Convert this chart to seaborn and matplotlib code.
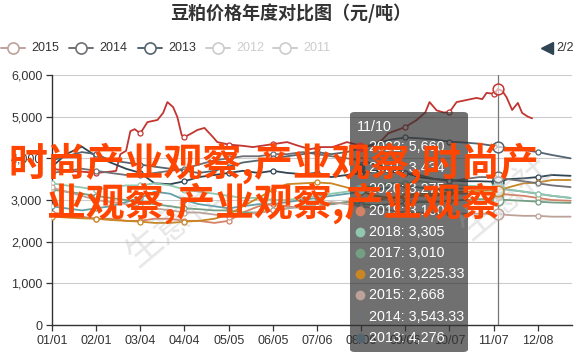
import numpy as np
import pandas as pd
import matplotlib
matplotlib.use("Agg")
import matplotlib.pyplot as plt
from matplotlib.patches import FancyBboxPatch
from matplotlib.lines import Line2D
import seaborn as sns

# ---------------- data ----------------
title = "豆粕价格年度对比图（元/吨）"
tick_days = [0, 31, 62, 93, 124, 155, 186, 217, 248, 279, 310, 341]
tick_labels = ["01/01", "02/01", "03/04", "04/04", "05/05", "06/05",
               "07/06", "08/06", "09/06", "10/07", "11/07", "12/08"]
hover_day = 313
hover_label = "11/10"

days = [0, 10, 21, 31, 41, 52, 62, 72, 83, 93, 103, 114, 124, 134, 145, 155,
        165, 176, 186, 196, 207, 217, 227, 238, 248, 258, 269, 279, 289, 300,
        310, 313, 320, 331, 341, 351, 364]

days_2022 = [0, 10, 21, 31, 41, 45, 48, 52, 55, 58, 62, 67, 74, 78, 81, 85, 88,
             91, 93, 98, 102, 107, 113, 116, 124, 134, 141, 151, 155, 165, 173,
             181, 186, 188, 197, 207, 217, 225, 232, 236, 240, 244, 248, 256,
             262, 265, 270, 275, 279, 284, 291, 298, 302, 305, 310, 313, 316,
             319, 323, 327, 330, 334, 337]
v2022 = [3750, 3700, 3680, 3650, 3680, 3700, 4100, 4180, 4650, 4700, 4600, 4870,
         4920, 5090, 5350, 5230, 4990, 4560, 4510, 4600, 4680, 4730, 4510, 4390,
         4330, 4300, 4270, 4320, 4340, 4390, 4300, 4220, 4250, 4270, 4270, 4390,
         4300, 4300, 4450, 4600, 4650, 4700, 4750, 4920, 5100, 5350, 5150, 5100,
         5110, 5350, 5400, 5450, 5420, 5570, 5550, 5660, 5620, 5470, 5160, 5330,
         5090, 5000, 4960]
v2021 = [3800, 4100, 4280, 4050, 3900, 3750, 3650, 3400, 3380, 3450, 3550, 3600,
         3650, 3700, 3650, 3700, 3650, 3620, 3650, 3550, 3600, 3650, 3700, 3680,
         3650, 3550, 3500, 3480, 3450, 3450, 3440, 3434, 3500, 3520, 3550, 3600, 3580]
v2020 = [2850, 2800, 2750, 2800, 2850, 2950, 3050, 3200, 3150, 3000, 2900, 2850,
         2800, 2850, 2900, 2900, 2950, 3000, 3050, 3100, 3150, 3200, 3250, 3300,
         3350, 3300, 3250, 3250, 3280, 3300, 3280, 3275, 3250, 3200, 3150, 3100, 3050]
v2019 = [2700, 2650, 2600, 2550, 2550, 2500, 2500, 2550, 2550, 2500, 2500, 2450,
         2500, 2700, 2850, 2900, 2850, 2800, 2850, 2900, 2950, 3000, 3000, 3050,
         3050, 3100, 3100, 3150, 3150, 3180, 3170, 3160, 3130, 3100, 3050, 3000, 2980]
v2018 = [3400, 3350, 3300, 3250, 3300, 3350, 3350, 3400, 3350, 3250, 3200, 3150,
         3100, 3050, 3050, 3000, 3000, 3050, 3100, 3150, 3200, 3300, 3350, 3400,
         3400, 3450, 3400, 3350, 3350, 3330, 3310, 3305, 3250, 3200, 3150, 3100, 3050]
v2017 = [3250, 3200, 3150, 3100, 3050, 3000, 2950, 2900, 2850, 2800, 2780, 2750,
         2750, 2700, 2700, 2750, 2800, 2850, 2900, 2900, 2950, 2900, 2880, 2900,
         2920, 2950, 2950, 2980, 3000, 3020, 3020, 3010, 3000, 2980, 2960, 2940, 2930]
v2016 = [2600, 2580, 2560, 2550, 2520, 2500, 2480, 2450, 2450, 2480, 2500, 2550,
         2650, 2850, 3050, 3250, 3380, 3400, 3420, 3400, 3300, 3200, 3100, 3050,
         3100, 3150, 3150, 3180, 3200, 3220, 3230, 3225.33, 3300, 3400, 3420, 3480, 3480]
v2015 = [3300, 3200, 3100, 3000, 2950, 2900, 2850, 2800, 2750, 2700, 2700, 2650,
         2600, 2650, 2700, 2750, 2800, 2850, 2900, 2950, 2900, 2850, 2800, 2750,
         2700, 2700, 2680, 2680, 2670, 2670, 2670, 2668, 2640, 2620, 2620, 2600, 2600]
v2014 = [3650, 3700, 3750, 3700, 3650, 3600, 3600, 3650, 3700, 3750, 3850, 3950,
         4000, 4050, 4050, 4100, 4100, 4150, 4100, 4050, 4000, 3950, 3850, 3750,
         3650, 3600, 3500, 3450, 3500, 3550, 3550, 3543.33, 3500, 3450, 3400, 3350, 3310]
v2013 = [3950, 4050, 4150, 4100, 3950, 3900, 3850, 3800, 3750, 3700, 3650, 3700,
         3800, 3900, 3950, 4000, 4050, 4100, 4150, 4100, 4150, 4250, 4350, 4450,
         4500, 4480, 4450, 4400, 4380, 4350, 4300, 4276, 4250, 4200, 4150, 4080, 4000]

years = ["2022", "2021", "2020", "2019", "2018", "2017", "2016", "2015", "2014", "2013"]
colors = ["#c23531", "#2f4554", "#61a0a8", "#d48265", "#91c7ae",
          "#749f83", "#ca8622", "#bda29a", "#6e7074", "#546570"]
legend_years = ["2015", "2014", "2013", "2012", "2011"]
legend_colors = ["#bda29a", "#6e7074", "#546570", "#cccccc", "#cccccc"]
legend_active = [True, True, True, False, False]

series_x = [days_2022] + [days] * 9
series_y = [v2022, v2021, v2020, v2019, v2018, v2017, v2016, v2015, v2014, v2013]

watermark1 = "时尚产业观察,产业观察,时尚产"
watermark2 = "业观察,产业观察,产业观察"
gray_mark = "生意社"

# ---------------- figure ----------------
sns.set_theme(style="white")
plt.rcParams["font.family"] = ["Liberation Sans", "Noto Sans CJK SC", "DejaVu Sans"]

W, H = 581, 356
fig = plt.figure(figsize=(W / 100, H / 100), dpi=100)
fig.patch.set_facecolor("white")


def fx(x):
    return x / W


def fy(y):
    return 1 - y / H


ax = fig.add_axes([fx(52), fy(325), 520 / W, 250 / H])
ax.set_facecolor("white")

for xs, ys, c in zip(series_x, series_y, colors):
    mk = [i for i, d in enumerate(xs) if d in tick_days]
    sns.lineplot(x=xs, y=ys, ax=ax, color=c, lw=1.3, sort=False,
                 marker="o", markevery=mk, markersize=3.6,
                 markerfacecolor="white", markeredgecolor=c, markeredgewidth=0.9,
                 zorder=3)

# hover pointer and enlarged symbols
ax.axvline(hover_day, color="#777777", lw=0.9, zorder=2)
hover_vals = [ys[xs.index(hover_day)] for xs, ys in zip(series_x, series_y)]
for v, c in zip(hover_vals, colors):
    sns.scatterplot(x=[hover_day], y=[v], ax=ax, s=60, facecolor=(1, 1, 1, 0.6),
                    edgecolor=c, linewidth=1.1, zorder=5)

ax.set_xlim(0, 365)
ax.set_ylim(0, 6000)
ax.set_xticks(tick_days)
ax.set_xticklabels(tick_labels)
ax.set_yticks(range(0, 6001, 1000))
ax.set_yticklabels([f"{v:,}" for v in range(0, 6001, 1000)])
ax.grid(axis="y", color="#cccccc", lw=0.8)
ax.grid(axis="x", visible=False)
for s in ["top", "right"]:
    ax.spines[s].set_visible(False)
for s in ["left", "bottom"]:
    ax.spines[s].set_color("#333333")
    ax.spines[s].set_linewidth(1.0)
ax.tick_params(axis="both", colors="#333333", labelsize=9, length=4,
               width=0.9, direction="out")
ax.tick_params(axis="x", pad=3, bottom=True)
ax.tick_params(axis="y", pad=3, left=True)
ax.set_xlabel("")
ax.set_ylabel("")

# ---------------- title & legend ----------------
fig.text(fx(291), fy(13), title, ha="center", va="center", fontsize=13,
         fontweight="bold", color="#333333", family=["Noto Sans CJK SC", "DejaVu Sans"])

leg_cx = [13, 81, 150, 218, 285]
for cx, yr, c, act in zip(leg_cx, legend_years, legend_colors, legend_active):
    fig.add_artist(Line2D([fx(cx - 12), fx(cx + 12)], [fy(48), fy(48)],
                          transform=fig.transFigure, color=c, lw=1.4))
    fig.add_artist(Line2D([fx(cx)], [fy(48)], transform=fig.transFigure,
                          marker="o", ms=8, mfc="white", mec=c, mew=1.2))
    fig.text(fx(cx + 18), fy(48), yr, ha="left", va="center", fontsize=9,
             color="#333333" if act else "#cccccc")

fig.add_artist(Line2D([fx(547)], [fy(48)], transform=fig.transFigure,
                      marker="<", ms=8, color="#2f4554"))
fig.text(fx(556), fy(48), "2/2", ha="left", va="center", fontsize=9, color="#333333")

# ---------------- tooltip ----------------
tip = FancyBboxPatch((fx(350), fy(352)), 118 / W, 240 / H,
                     boxstyle="round,pad=0,rounding_size=0.008",
                     transform=fig.transFigure, fc=(0.2, 0.2, 0.2, 0.7),
                     ec="none", zorder=10)
fig.add_artist(tip)
fig.text(fx(357), fy(127), hover_label, ha="left", va="center", fontsize=10.3,
         color="white", zorder=11)
for i, (yr, v, c) in enumerate(zip(years, hover_vals, colors)):
    yy = 147 + 21.2 * i
    fig.add_artist(Line2D([fx(360)], [fy(yy)], transform=fig.transFigure,
                          marker="o", ms=7, color=c, mec="none", zorder=11))
    txt = f"{v:,.2f}".rstrip("0").rstrip(".")
    fig.text(fx(369), fy(yy), f"{yr}: {txt}", ha="left", va="center",
             fontsize=10.3, color="white", zorder=11)

# ---------------- watermarks ----------------
for gx, gy in [(172, 225), (505, 198)]:
    fig.text(fx(gx), fy(gy), gray_mark, ha="center", va="center", rotation=40,
             fontsize=26, color="#aaaaaa", alpha=0.28, zorder=12,
             family=["Noto Sans CJK SC"])

fig.text(fx(8), fy(163), watermark1, ha="left", va="center", fontsize=28,
         fontweight="bold", color="#ff4500", zorder=20,
         family=["Noto Sans CJK SC", "DejaVu Sans"])
fig.text(fx(47), fy(203), watermark2, ha="left", va="center", fontsize=28,
         fontweight="bold", color="#ff4500", zorder=20,
         family=["Noto Sans CJK SC", "DejaVu Sans"])

fig.savefig("out.png", dpi=100, facecolor="white")
